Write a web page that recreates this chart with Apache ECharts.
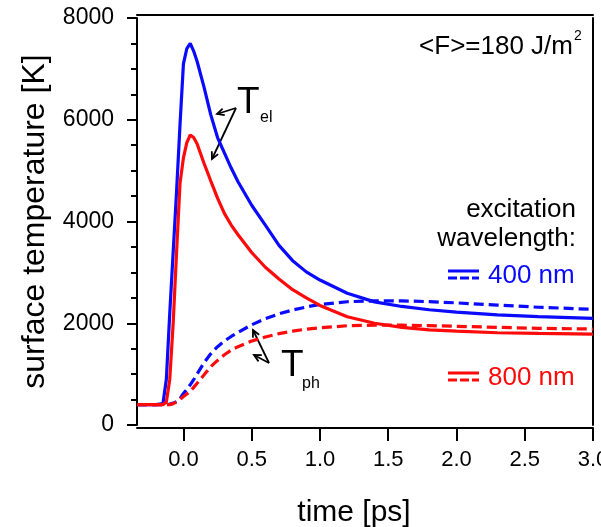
<!DOCTYPE html>
<html><head><meta charset="utf-8">
<script src="https://cdn.jsdelivr.net/npm/echarts@6/dist/echarts.min.js"></script>
<style>html,body{margin:0;padding:0;background:#fff}#c{width:601px;height:527px}</style>
</head><body><div id="c"></div>
<script>
// time in ps
const time   = [-0.34,-0.2,-0.15,-0.125,-0.1,-0.075,-0.05,-0.025,0,0.025,0.05,0.075,0.1,0.15,0.2,0.25,0.3,0.35,0.4,0.5,0.6,0.7,0.8,0.9,1.0,1.2,1.4,1.6,1.8,2.0,2.3,2.6,3.0];
// electron temperature, 400 nm excitation (K)
const tEl400 = [400,400,420,900,2200,3400,4600,5900,7100,7400,7500,7350,7150,6650,6100,5650,5350,5050,4780,4320,3930,3530,3230,3010,2850,2590,2420,2330,2265,2220,2165,2130,2096];
// electron temperature, 800 nm excitation (K)
const tEl800 = [400,400,400,450,900,2000,3400,4750,5250,5550,5700,5650,5530,5150,4800,4460,4160,3930,3740,3390,3100,2870,2660,2500,2350,2127,2000,1920,1870,1845,1813,1800,1788];
// phonon temperature, 400 nm excitation (K)
const tPh400 = [400,400,400,402,410,430,460,520,620,700,790,890,1000,1220,1400,1540,1650,1740,1820,1970,2090,2185,2260,2320,2370,2423,2440,2440,2425,2400,2357,2315,2273];
// phonon temperature, 800 nm excitation (K)
const tPh800 = [400,400,400,400,400,420,450,500,560,610,660,740,820,983,1147,1270,1380,1473,1540,1650,1730,1795,1845,1885,1910,1951,1963,1963,1953,1940,1919,1900,1886];

const xTickValues = [0,0.5,1.0,1.5,2.0,2.5,3.0];
const xLabel = 'time [ps]';
const yLabel = 'surface temperature [K]';

const FONT = '"Liberation Sans", Arial, Helvetica, sans-serif';
const BLUE = '#0a0aff';
const RED = '#ff0a0a';

function arrow(x1,y1,x2,y2){
  const dx=x2-x1, dy=y2-y1, L=Math.hypot(dx,dy), ux=dx/L, uy=dy/L;
  const hl=7, hw=3.5;
  return [
    {type:'line', shape:{x1:x1,y1:y1,x2:x2,y2:y2}, style:{stroke:'#000',lineWidth:1.8}},
    {type:'polyline', shape:{points:[[x2-hl*ux+hw*uy, y2-hl*uy-hw*ux],[x2,y2],[x2-hl*ux-hw*uy, y2-hl*uy+hw*ux]]}, style:{stroke:'#000',lineWidth:1.8, fill:null}}
  ];
}
function txt(x,y,text,size,color,align,va){
  return {type:'text', x:x, y:y, style:{text:text, font: size+'px '+FONT, fill:color||'#000', align:align||'left', verticalAlign:va||'middle'}};
}

const mk = (vals)=>time.map((t,i)=>[t, vals[i]]);

const chart = echarts.init(document.getElementById('c'), null, {renderer:'canvas'});
const axisLineStyle = {color:'#000', width:2};
const option = {
  animation:false,
  backgroundColor:'#fff',
  grid:{left:137, right:8, top:18, bottom:102, containLabel:false, outerBoundsMode:'none'},
  xAxis:[{
    type:'value', min:-0.34, max:3.0, position:'bottom', offset:3,
    axisLine:{show:true, onZero:false, lineStyle:axisLineStyle},
    axisTick:{show:true, inside:false, length:13, lineStyle:{color:'#000', width:2}, customValues:xTickValues},
    axisLabel:{show:true, customValues:xTickValues, formatter:(v)=>Number(v).toFixed(1), fontFamily:FONT, fontSize:22, color:'#000', margin:21},
    splitLine:{show:false},
    name:xLabel, nameLocation:'middle', nameGap:70,
    nameTextStyle:{fontFamily:FONT, fontSize:30, color:'#000', padding:[0,22,0,0]}
  },{
    type:'value', min:-0.34, max:3.0, position:'top', offset:3,
    axisLine:{show:true, onZero:false, lineStyle:axisLineStyle},
    axisTick:{show:false}, axisLabel:{show:false}, splitLine:{show:false}
  }],
  yAxis:[{
    type:'value', min:0, max:8000, interval:2000, position:'left',
    axisLine:{show:true, onZero:false, lineStyle:axisLineStyle},
    axisTick:{show:true, inside:false, length:10, lineStyle:{color:'#000', width:2}},
    minorTick:{show:true, splitNumber:4, length:6, lineStyle:{color:'#000', width:2}},
    axisLabel:{fontFamily:FONT, fontSize:23, color:'#000', margin:23, formatter:(v)=>String(v)},
    splitLine:{show:false}, minorSplitLine:{show:false},
    name:yLabel, nameLocation:'middle', nameGap:86, nameRotate:90,
    nameTextStyle:{fontFamily:FONT, fontSize:32, color:'#000'}
  },{
    type:'value', min:0, max:8000, position:'right',
    axisLine:{show:true, onZero:false, lineStyle:axisLineStyle},
    axisTick:{show:false}, axisLabel:{show:false}, splitLine:{show:false}
  }],
  series:[
    {name:'Tph 400', type:'line', data:mk(tPh400), showSymbol:false, symbol:'none', lineStyle:{color:BLUE, width:3.2, type:[10,5]}, itemStyle:{color:BLUE}, z:2},
    {name:'Tph 800', type:'line', data:mk(tPh800), showSymbol:false, symbol:'none', lineStyle:{color:RED, width:3.2, type:[10,5]}, itemStyle:{color:RED}, z:2},
    {name:'Tel 400', type:'line', data:mk(tEl400), showSymbol:false, symbol:'none', lineStyle:{color:BLUE, width:3.2}, itemStyle:{color:BLUE}, z:3},
    {name:'Tel 800', type:'line', data:mk(tEl800), showSymbol:false, symbol:'none', lineStyle:{color:RED, width:3.2}, itemStyle:{color:RED}, z:4}
  ],
  graphic:[].concat(
    [txt(573,47,'<F>=180 J/m',26,'#000','right','middle'), txt(574,36,'2',14,'#000','left','middle')],
    [txt(576,210,'excitation',26,'#000','right','middle'), txt(576,239,'wavelength:',26,'#000','right','middle')],
    [
      {type:'line', shape:{x1:448,y1:271,x2:479,y2:271}, style:{stroke:BLUE, lineWidth:3}},
      {type:'line', shape:{x1:448,y1:278,x2:479,y2:278}, style:{stroke:BLUE, lineWidth:3, lineDash:[9,3]}},
      txt(488,276,'400 nm',26,BLUE,'left','middle'),
      {type:'line', shape:{x1:448,y1:373,x2:479,y2:373}, style:{stroke:RED, lineWidth:3}},
      {type:'line', shape:{x1:448,y1:380,x2:479,y2:380}, style:{stroke:RED, lineWidth:3, lineDash:[9,3]}},
      txt(488,378,'800 nm',26,RED,'left','middle')
    ],
    [txt(237,103,'T',37,'#000','left','middle'), txt(260,118,'el',16,'#000','left','middle')],
    arrow(236,108,217,114), arrow(236,108,212,159),
    [txt(281,366,'T',37,'#000','left','middle'), txt(302,384,'ph',16,'#000','left','middle')],
    arrow(269,363,253,330), arrow(269,363,254,355)
  )
};
chart.setOption(option);
</script>
</body></html>
